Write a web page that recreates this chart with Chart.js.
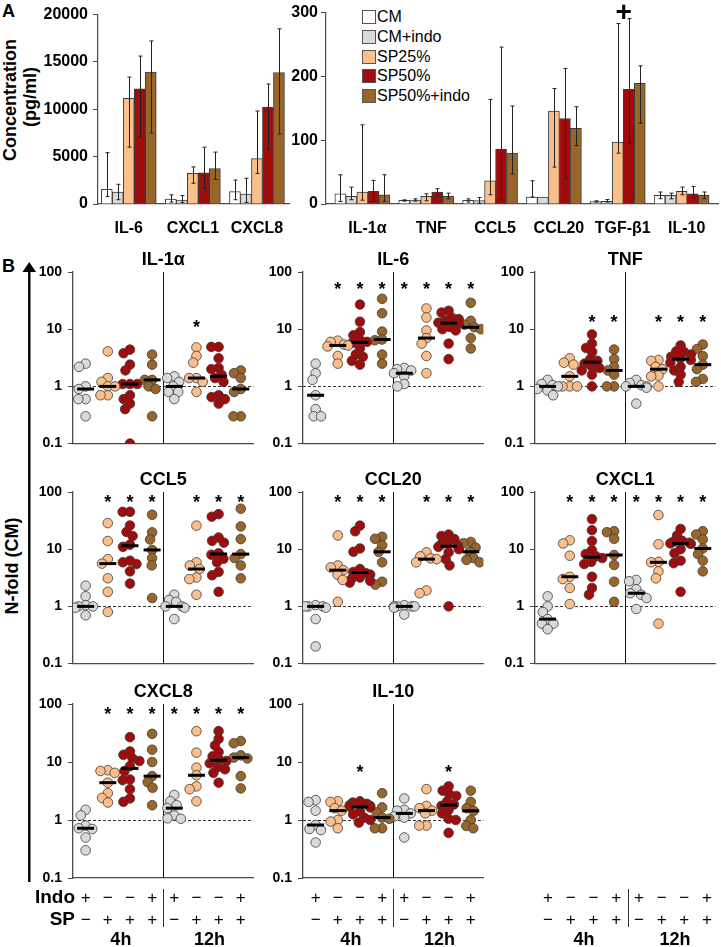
<!DOCTYPE html>
<html>
<head>
<meta charset="utf-8">
<script src="https://cdn.jsdelivr.net/npm/chart.js@4.4.0/dist/chart.umd.min.js"></script>
<style>
  body { margin: 0; background: #fff; width: 721px; height: 947px; position: relative; overflow: hidden;
         font-family: 'Liberation Sans', Arial, Helvetica, sans-serif; }
  canvas { position: absolute; }
  .t { position: absolute; white-space: nowrap; color: #000; line-height: 1; }
  .rot { transform: translate(-50%, -50%) rotate(-90deg); }
  .key { position: absolute; width: 12px; height: 12px; border: 1px solid #555; }
</style>
</head>
<body>
<div class="t" style="left:2px;top:1px;font:bold 18px 'Liberation Sans',Arial">A</div>
<div class="t" style="left:2px;top:256px;font:bold 18px 'Liberation Sans',Arial">B</div>
<div class="t rot" style="left:10px;top:100px;font:bold 18px 'Liberation Sans',Arial">Concentration</div>
<div class="t rot" style="left:30px;top:97px;font:bold 18px 'Liberation Sans',Arial">(pg/ml)</div>
<div class="t rot" style="left:12px;top:566px;font:bold 18px 'Liberation Sans',Arial">N-fold (CM)</div>
<svg style="position:absolute;left:0;top:0" width="60" height="947">
  <line x1="29.3" y1="268" x2="29.3" y2="882" stroke="#000" stroke-width="2.4"/>
  <polygon points="22.5,272 29.3,262 36,272" fill="#000"/>
</svg>
<div id="legend"></div>
<script>
// ---- panel A: concentrations (pg/ml), one row per series ----
const seriesNames = ['CM', 'CM+indo', 'SP25%', 'SP50%', 'SP50%+indo'];
const seriesColors = ['#ffffff', '#d9d9d9', '#fbbf8c', '#a20b0b', '#98662b'];

const leftCats = ['IL-6', 'CXCL1', 'CXCL8'];
const leftMean = [
  [1560, 520, 1310],
  [1250, 420, 1040],
  [11150, 3230, 4790],
  [12150, 3290, 10240],
  [13920, 3750, 13890]
];
const leftLow = [
  [800, 200, 450],
  [450, 170, 170],
  [6000, 2190, 3230],
  [7040, 1630, 5760],
  [7500, 2600, 7400]
];
const leftHigh = [
  [5420, 970, 2530],
  [2080, 900, 2710],
  [13400, 3920, 9820],
  [15620, 6000, 12670],
  [17220, 5480, 18500]
];

const rightCats = ['IL-1α', 'TNF', 'CCL5', 'CCL20', 'TGF-β1', 'IL-10'];
const rightMean = [
  [16, 5.6, 5.6, 10.9, 3.6, 13.4],
  [11.9, 6, 5.2, 10.9, 4.3, 13.4],
  [18.5, 11.9, 36.4, 145.8, 96.9, 19.7],
  [19.7, 18.8, 86, 134, 179.7, 16],
  [14.5, 11.9, 79.7, 118.8, 189, 13.4]
];
const rightLow = [
  [4, 4.5, 3, 10.9, 3, 8.3],
  [6.7, 4.5, 1, 10.9, 3, 8],
  [6, 5, 14.5, 57.8, 79.7, 14.5],
  [4, 12, 6.7, 39.5, 95.3, 9.4],
  [4, 8, 47, 91.6, 126.6, 8.3]
];
const rightHigh = [
  [45.8, 6.5, 8, 36.4, 5, 18.8],
  [26.5, 8, 10.3, 10.9, 7, 17],
  [124, 16, 164, 181, 282.8, 26.5],
  [37, 24, 246, 212.5, 290.6, 27.5],
  [45.8, 17, 153.6, 152.5, 216.6, 18.8]
];
const plusMarkCat = 'TGF-β1';

// ---- panel B: N-fold of CM, groups = 4h (CM+indo, SP25%, SP50%, SP50%+indo), then 12h ----
const groupSeries = [1, 2, 3, 4, 1, 2, 3, 4];
const indoRow = ['+', '−', '−', '+', '+', '−', '−', '+'];
const spRow = ['−', '+', '+', '+', '−', '+', '+', '+'];
const rowNames = ['Indo', 'SP'];
const timeLabels = ['4h', '12h'];
const foldTicks = [0.1, 1, 10, 100];

const foldIL1a = [
  [2.5, 2.2, 1.0, 0.9, 0.6, 0.6, 0.3],
  [4.1, 1.4, 1.2, 1.0, 1.0, 0.7, 0.7],
  [4.4, 3.8, 2.4, 1.9, 1.1, 1.1, 1.1, 0.7, 0.6, 0.5, 0.4, 0.1],
  [3.6, 2.4, 1.3, 1.3, 1.0, 0.9, 0.3],
  [1.5, 1.4, 1.2, 1.0, 0.8, 0.8, 0.6],
  [4.8, 3.4, 2.6, 1.4, 1.4, 1.2, 0.8],
  [4.9, 4.9, 3.1, 2.1, 2.0, 1.6, 1.4, 1.2, 0.7, 0.65, 0.6, 0.5],
  [1.9, 1.7, 1.4, 0.9, 0.8, 0.3, 0.3]
];
const foldIL6 = [
  [2.5, 1.7, 1.3, 0.7, 0.4, 0.3, 0.3],
  [6.3, 6.0, 5.4, 5.2, 5.0, 3.4, 2.5],
  [27, 13.5, 8.9, 7.8, 6.5, 6.0, 5.8, 4.6, 3.6, 3.3, 2.8, 2.4],
  [34, 19, 9.1, 6.6, 6.4, 3.6, 2.5],
  [2.1, 2.0, 1.9, 1.7, 1.5, 1.1, 1.0],
  [23, 16, 9.5, 7.0, 5.6, 3.4, 1.7],
  [21, 19.5, 16, 15, 14, 13, 12.5, 11, 10, 9.5, 5.6, 3.0],
  [29, 14, 12, 10.8, 10, 7, 4.6]
];
const foldTNF = [
  [1.3, 1.1, 1.05, 1.0, 0.9, 0.85, 0.7],
  [3.1, 2.6, 2.4, 1.5, 1.0, 1.0, 1.0],
  [8.1, 5.6, 4.7, 4.0, 3.0, 2.8, 2.5, 2.2, 2.1, 1.9, 1.6, 1.0],
  [4.4, 3.0, 2.2, 1.9, 1.6, 1.0, 1.0],
  [1.3, 1.15, 1.05, 1.0, 1.0, 0.95, 0.5],
  [2.9, 2.8, 2.2, 2.0, 1.55, 1.5, 1.0],
  [5.2, 4.1, 4.0, 3.6, 3.3, 3.1, 2.9, 2.6, 2.2, 1.9, 1.6, 1.2],
  [5.4, 4.5, 3.4, 2.4, 2.0, 1.35, 1.2]
];
const foldCCL5 = [
  [2.3, 1.5, 1.05, 1.0, 1.0, 0.95, 0.7],
  [28.6, 13.9, 6.7, 5.6, 3.1, 1.8, 0.8],
  [45, 45, 26, 20, 17, 12, 11, 6.3, 5.9, 5.5, 4.1, 2.5],
  [40, 19.7, 14.8, 9.7, 7.0, 5.2, 1.4],
  [1.6, 1.3, 1.2, 1.0, 1.0, 0.95, 0.6],
  [25.8, 5.9, 5.2, 4.5, 3.2, 3.0, 1.6],
  [41, 37, 16, 14, 13, 8.5, 8.0, 6.8, 5.9, 4.0, 3.5, 1.8],
  [51, 25, 15, 8.2, 7.0, 5.2, 3.1]
];
const foldCCL20 = [
  [1.05, 1.0, 1.0, 1.0, 0.95, 0.6, 0.2],
  [17.4, 5.2, 4.8, 4.3, 3.6, 2.9, 1.2],
  [25.8, 20.6, 10.3, 9.0, 4.5, 4.0, 3.8, 3.6, 3.2, 3.0, 2.8, 2.6],
  [16.5, 15.2, 11.7, 9.0, 5.9, 2.7, 2.4],
  [1.05, 1.0, 1.0, 1.0, 1.0, 0.95, 0.72],
  [8.8, 7.5, 6.9, 6.7, 5.9, 1.9, 1.7],
  [18, 17, 15, 13, 12, 11.5, 11, 10, 8.8, 6.7, 5.2, 1.0],
  [13.4, 12.7, 10.7, 9.0, 7.0, 6.5, 5.9]
];
const foldCXCL1 = [
  [1.5, 1.0, 0.8, 0.6, 0.5, 0.5, 0.4],
  [14.3, 12.6, 7.7, 3.3, 3.0, 2.1, 1.1],
  [33.6, 21.5, 13.9, 9.6, 8.2, 7.5, 7.0, 6.0, 5.5, 3.3, 2.1, 1.6],
  [20.6, 19.8, 15.2, 7.9, 5.3, 2.7, 1.2],
  [2.9, 2.75, 2.0, 1.7, 1.6, 1.4, 0.9],
  [39.6, 12.2, 6.0, 5.9, 4.1, 3.1, 0.5],
  [22.6, 17.4, 14, 13.5, 13, 12.6, 12.4, 10, 8.5, 6.3, 5.7, 1.8],
  [20.6, 18.1, 14.8, 10.3, 8.2, 6.3, 4.1]
];
const foldCXCL8 = [
  [1.5, 1.2, 0.8, 0.72, 0.7, 0.5, 0.3],
  [7.2, 7.0, 6.5, 4.4, 2.9, 2.4, 2.0],
  [26.8, 15.2, 13.3, 11.5, 10.4, 8.5, 7.0, 5.0, 4.85, 3.4, 2.35, 2.06],
  [30.6, 16.3, 10, 5.7, 4.5, 3.6, 1.8],
  [2.7, 2.1, 1.8, 1.6, 1.2, 1.07, 1.05],
  [34, 14.5, 8.0, 5.9, 3.8, 3.4, 2.1],
  [34, 25, 19.3, 14.8, 12.5, 11, 10.4, 9.5, 8.2, 7.5, 6.5, 4.4],
  [23, 21, 13, 11.9, 11.5, 5.7, 3.5]
];
const foldIL10 = [
  [2.2, 2.05, 1.45, 0.82, 0.7, 0.67, 0.41],
  [2.1, 2.05, 1.6, 1.45, 1.0, 0.94, 0.72],
  [2.1, 2.0, 1.9, 1.8, 1.75, 1.7, 1.65, 1.4, 1.25, 1.1, 1.0, 0.9],
  [2.9, 1.65, 1.35, 1.1, 1.05, 0.72, 0.72],
  [2.35, 1.5, 1.45, 1.3, 1.15, 1.1, 0.5],
  [3.4, 1.75, 1.6, 1.45, 1.3, 0.8, 0.8],
  [3.8, 3.2, 2.8, 2.6, 2.1, 1.85, 1.75, 1.5, 1.3, 1.05, 1.0, 0.6],
  [3.2, 2.05, 1.6, 1.44, 1.0, 0.79, 0.72]
];

// significance marks (1 = asterisk) and the fold level where they sit
const starsIL1a  = [0, 0, 0, 0, 0, 1, 0, 0];
const starsIL6   = [0, 1, 1, 1, 1, 1, 1, 1];
const starsTNF   = [0, 0, 1, 1, 0, 1, 1, 1];
const starsCCL5  = [0, 1, 1, 1, 0, 1, 1, 1];
const starsCCL20 = [0, 1, 1, 1, 0, 1, 1, 1];
const starsCXCL1 = [0, 1, 1, 1, 1, 1, 1, 1];
const starsCXCL8 = [0, 1, 1, 1, 1, 1, 1, 1];
const starsIL10  = [0, 0, 1, 0, 0, 0, 1, 0];
const starLevels = [13, 60, 15.5, 78, 78, 78, 80, 7.9];

// ---- layout ----
const FONT = "'Liberation Sans', Arial, Helvetica, sans-serif";
const AXIS_COL = '#4a4a4a';
const colAxis = [73, 303, 535];
const rowTop = [272, 492, 704];
const PLOT_W = 185, PLOT_H = 174, AXIS_W = 50, TITLE_H = 30;
const X_MIN = -0.57, X_MAX = 7.57;
const PX_UNIT = PLOT_W / (X_MAX - X_MIN);
const PX_DECADE = PLOT_H / 3;
const DOT_R = 4.8;

Chart.defaults.font.family = FONT;
Chart.defaults.color = '#000';

function addCanvas(left, top, w, h) {
  const c = document.createElement('canvas');
  c.width = w; c.height = h;
  c.style.left = left + 'px'; c.style.top = top + 'px';
  c.style.width = w + 'px'; c.style.height = h + 'px';
  document.body.appendChild(c);
  return c;
}

function median(vals) {
  const s = [...vals].sort((a, b) => a - b), n = s.length;
  return n % 2 ? s[(n - 1) / 2] : (s[n / 2 - 1] + s[n / 2]) / 2;
}

// simple beeswarm: horizontal offsets (px) so dots don't pile up; clamped so groups stay apart
function swarm(vals) {
  const D = 7.5, MAXOFF = 10.5, placed = [], off = [];
  const order = vals.map((v, i) => i).sort((a, b) => vals[b] - vals[a]);
  order.forEach(i => {
    const py = Math.log10(vals[i]) * PX_DECADE;
    const near = placed.filter(p => Math.abs(p.y - py) < D);
    const cands = [0];
    near.forEach(p => {
      const w = Math.sqrt(D * D - (p.y - py) ** 2);
      cands.push(p.x - w, p.x + w);
    });
    cands.sort((a, b) => Math.abs(a) - Math.abs(b));
    let x = cands.find(c => near.every(p => Math.hypot(p.x - c, p.y - py) >= D - 0.01));
    x = Math.max(-MAXOFF, Math.min(MAXOFF, x));
    placed.push({x, y: py});
    off[i] = x;
  });
  return off;
}

// ---- panel A ----
const errorBars = {
  id: 'errorBars',
  afterDatasetsDraw(chart) {
    const {ctx} = chart, y = chart.scales.y;
    ctx.save();
    ctx.strokeStyle = '#222';
    ctx.lineWidth = 1;
    chart.data.datasets.forEach((ds, i) => {
      chart.getDatasetMeta(i).data.forEach((bar, j) => {
        if (ds.low[j] === ds.high[j]) return;
        const x = Math.round(bar.x) + 0.5;
        const yl = y.getPixelForValue(ds.low[j]), yh = y.getPixelForValue(ds.high[j]);
        ctx.beginPath();
        ctx.moveTo(x, yl); ctx.lineTo(x, yh);
        ctx.moveTo(x - 2, yl); ctx.lineTo(x + 2, yl);
        ctx.moveTo(x - 2, yh); ctx.lineTo(x + 2, yh);
        ctx.stroke();
      });
    });
    const mark = chart.options.plugins.errorBars.mark;
    if (mark) {
      const i = chart.data.cats.indexOf(mark);
      ctx.fillStyle = '#000';
      ctx.font = 'bold 28px ' + FONT;
      ctx.textAlign = 'center';
      ctx.textBaseline = 'middle';
      ctx.fillText('+', chart.scales.x.getPixelForValue(i) + 6, chart.chartArea.top + 1);
    }
    ctx.restore();
  }
};

function makeBar(left, width, cats, mean, low, high, yMax, step, xMin, xMax, axisW, tickPad, labelOffset, mark) {
  const cv = addCanvas(left, 0, width, 240);
  new Chart(cv, {
    type: 'bar',
    data: {
      cats,
      datasets: seriesNames.map((name, s) => ({
        label: name,
        data: cats.map((c, i) => ({x: i, y: mean[s][i]})),
        low: low[s],
        high: high[s],
        backgroundColor: seriesColors[s],
        borderColor: '#3c3c3c',
        borderWidth: 1,
        barThickness: 11
      }))
    },
    options: {
      animation: false, responsive: false, events: [],
      layout: {padding: {top: 12, right: 3, bottom: 0, left: 0}},
      plugins: {legend: {display: false}, tooltip: {enabled: false}, errorBars: {mark}},
      scales: {
        x: {
          type: 'linear', min: xMin, max: xMax, offset: false,
          grid: {display: false},
          border: {color: AXIS_COL, width: 1.2},
          afterBuildTicks: s => { s.ticks = cats.map((c, i) => ({value: i})); },
          ticks: {callback: v => cats[v], autoSkip: false, maxRotation: 0, padding: 7, labelOffset,
                  font: {size: 16, weight: 'bold'}, color: '#000'},
          afterFit: s => { s.height = 36; }
        },
        y: {
          min: 0, max: yMax,
          ticks: {stepSize: step, padding: tickPad, callback: v => String(v),
                  font: {size: 16, weight: 'bold'}, color: '#000'},
          grid: {drawOnChartArea: false, tickLength: 5, color: AXIS_COL},
          border: {color: AXIS_COL, width: 1.2},
          afterFit: s => { s.width = axisW; }
        }
      }
    },
    plugins: [errorBars]
  });
}

makeBar(0, 292, leftCats, leftMean, leftLow, leftHigh, 20000, 5000, -0.48, 2.5, 98, 5, 0, null);
makeBar(280, 441, rightCats, rightMean, rightLow, rightHigh, 300, 100, -0.57, 5.57, 46, 3, 5, plusMarkCat);

// legend
const legend = document.getElementById('legend');
seriesNames.forEach((name, s) => {
  const cy = 16.7 + 19.75 * s;
  const box = document.createElement('div');
  box.className = 'key';
  box.style.left = '362px'; box.style.top = (cy - 6.5) + 'px';
  box.style.background = seriesColors[s];
  legend.appendChild(box);
  const t = document.createElement('div');
  t.className = 't';
  t.style.left = '377px'; t.style.top = (cy - 8.5) + 'px';
  t.style.font = '16px ' + FONT;
  t.textContent = name;
  legend.appendChild(t);
});

// ---- panel B ----
const panelDecor = {
  id: 'panelDecor',
  beforeDatasetsDraw(chart) {
    const p = chart.canvas._panel;
    if (!p.data) return;
    const {ctx, chartArea: a, scales: {x, y}} = chart;
    ctx.save();
    ctx.strokeStyle = '#333';
    ctx.lineWidth = 1;
    ctx.setLineDash([3, 2]);
    const y1 = Math.round(y.getPixelForValue(1)) + 0.5;
    ctx.beginPath(); ctx.moveTo(a.left, y1); ctx.lineTo(a.right, y1); ctx.stroke();
    ctx.setLineDash([]);
    ctx.strokeStyle = '#111';
    const xd = Math.round(x.getPixelForValue(3.5)) + 0.5;
    ctx.beginPath(); ctx.moveTo(xd, a.top); ctx.lineTo(xd, a.bottom); ctx.stroke();
    ctx.restore();
  },
  afterDatasetsDraw(chart) {
    const p = chart.canvas._panel;
    const {ctx, chartArea: a, scales: {x, y}} = chart;
    ctx.save();
    ctx.fillStyle = '#000';
    ctx.textAlign = 'center';
    if (p.data) {
      ctx.strokeStyle = '#000';
      ctx.lineWidth = 3;
      p.data.forEach((vals, g) => {
        const gx = x.getPixelForValue(g), my = y.getPixelForValue(median(vals));
        ctx.beginPath(); ctx.moveTo(gx - 8.5, my); ctx.lineTo(gx + 8.5, my); ctx.stroke();
      });
      ctx.font = 'bold 18px ' + FONT;
      ctx.textBaseline = 'alphabetic';
      const sy = y.getPixelForValue(p.starLevel) + 10;
      p.stars.forEach((s, g) => { if (s) ctx.fillText('*', x.getPixelForValue(g), sy); });
      ctx.textBaseline = 'middle';
      ctx.font = 'bold 18px ' + FONT;
      ctx.fillText(p.title, (a.left + a.right) / 2, a.top - 12);
    }
    if (p.labels) {
      const b = a.bottom;
      ctx.textBaseline = 'middle';
      ctx.font = '17px ' + FONT;
      indoRow.forEach((s, g) => {
        const gx = x.getPixelForValue(g);
        ctx.fillText(s, gx, b + 20);
        ctx.fillText(spRow[g], gx, b + 42);
      });
      ctx.font = 'bold 18px ' + FONT;
      ctx.fillText(timeLabels[0], x.getPixelForValue(1.5) + 2, b + 62);
      ctx.fillText(timeLabels[1], x.getPixelForValue(5.5) + 2, b + 62);
      ctx.strokeStyle = '#333';
      ctx.lineWidth = 1;
      const xd = Math.round(x.getPixelForValue(3.5)) + 0.5;
      ctx.beginPath(); ctx.moveTo(xd, b + 11); ctx.lineTo(xd, b + 49); ctx.stroke();
      if (p.col === 0) {
        ctx.textAlign = 'right';
        ctx.font = 'bold 19px ' + FONT;
        ctx.fillText(rowNames[0], a.left + 2, b + 20);
        ctx.fillText(rowNames[1], a.left + 2, b + 42);
      }
    }
    ctx.restore();
  }
};

function makePanel(p) {
  const top = rowTop[p.row] - TITLE_H;
  const h = p.row === 2 ? 947 - top : TITLE_H + PLOT_H + 12;
  const cv = addCanvas(colAxis[p.col] - AXIS_W, top, AXIS_W + PLOT_W + 1, h);
  cv._panel = p;
  const blank = !p.data;
  const axisCol = blank ? 'rgba(0,0,0,0)' : AXIS_COL;
  const datasets = (p.data || []).map((vals, g) => {
    const off = swarm(vals);
    return {
      data: vals.map((v, i) => ({x: g + off[i] / PX_UNIT, y: v})),
      pointRadius: DOT_R,
      pointHoverRadius: DOT_R,
      pointBackgroundColor: seriesColors[groupSeries[g]],
      pointBorderColor: '#3a3a3a',
      pointBorderWidth: 0.8
    };
  });
  new Chart(cv, {
    type: 'scatter',
    data: {datasets},
    options: {
      animation: false, responsive: false, events: [],
      layout: {padding: {top: TITLE_H, right: 1, bottom: h - TITLE_H - PLOT_H, left: 0}},
      plugins: {legend: {display: false}, tooltip: {enabled: false}},
      scales: {
        x: {
          type: 'linear', min: X_MIN, max: X_MAX,
          grid: {display: false}, ticks: {display: false},
          border: {color: axisCol, width: 1.3},
          afterFit: s => { s.height = 0; }
        },
        y: {
          type: 'logarithmic', min: 0.1, max: 100,
          afterBuildTicks: s => { s.ticks = foldTicks.map(v => ({value: v})); },
          ticks: {callback: v => String(v), padding: 6, font: {size: 14, weight: 'bold'},
                  color: blank ? 'rgba(0,0,0,0)' : '#000'},
          grid: {drawOnChartArea: false, tickLength: 5, color: axisCol},
          border: {color: axisCol, width: 1.3},
          afterFit: s => { s.width = AXIS_W; }
        }
      }
    },
    plugins: [panelDecor]
  });
}

const panels = [
  {title: 'IL-1α', data: foldIL1a, stars: starsIL1a, starLevel: starLevels[0], col: 0, row: 0},
  {title: 'IL-6', data: foldIL6, stars: starsIL6, starLevel: starLevels[1], col: 1, row: 0},
  {title: 'TNF', data: foldTNF, stars: starsTNF, starLevel: starLevels[2], col: 2, row: 0},
  {title: 'CCL5', data: foldCCL5, stars: starsCCL5, starLevel: starLevels[3], col: 0, row: 1},
  {title: 'CCL20', data: foldCCL20, stars: starsCCL20, starLevel: starLevels[4], col: 1, row: 1},
  {title: 'CXCL1', data: foldCXCL1, stars: starsCXCL1, starLevel: starLevels[5], col: 2, row: 1},
  {title: 'CXCL8', data: foldCXCL8, stars: starsCXCL8, starLevel: starLevels[6], col: 0, row: 2, labels: true},
  {title: 'IL-10', data: foldIL10, stars: starsIL10, starLevel: starLevels[7], col: 1, row: 2, labels: true},
  {col: 2, row: 2, labels: true}
];
panels.forEach(makePanel);
</script>
</body>
</html>
